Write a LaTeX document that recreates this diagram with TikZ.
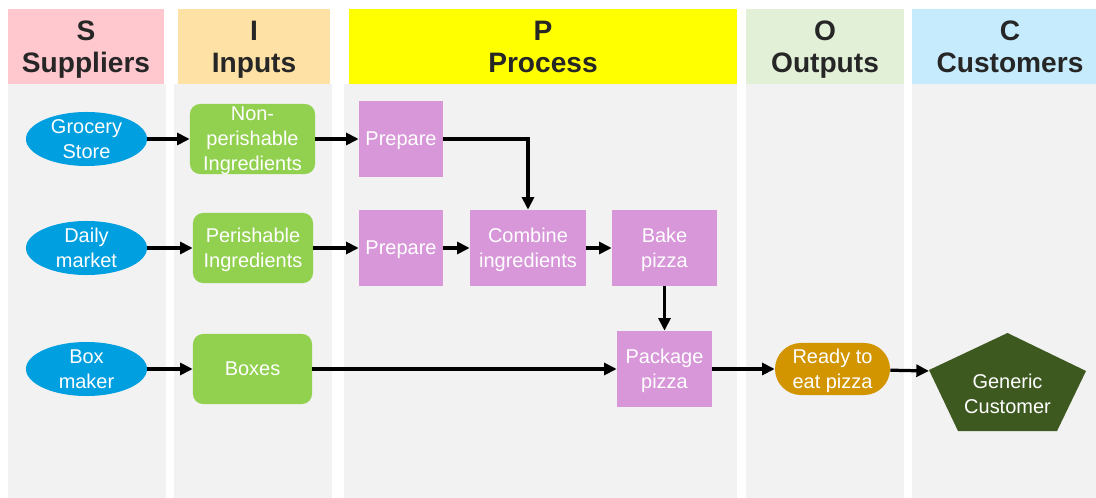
\documentclass[tikz,border=0pt]{standalone}
\usepackage{fontspec}
\setmainfont{Liberation Sans}
\usetikzlibrary{arrows.meta, shapes.geometric}

\definecolor{hdrS}{HTML}{FFC7CE}
\definecolor{hdrI}{HTML}{FDE1A5}
\definecolor{hdrP}{HTML}{FFFF00}
\definecolor{hdrO}{HTML}{E3F0D8}
\definecolor{hdrC}{HTML}{C5EBFD}
\definecolor{laneGrey}{HTML}{F2F2F2}
\definecolor{hdrText}{HTML}{262626}
\definecolor{supBlue}{HTML}{009FE0}
\definecolor{inGreen}{HTML}{92D050}
\definecolor{procPink}{HTML}{D797D9}
\definecolor{outGold}{HTML}{D29500}
\definecolor{custGreen}{HTML}{3E5920}

\begin{document}
\begin{tikzpicture}[
    x=0.025cm, y=-0.025cm,
    head style/.style={align=center, text=hdrText, inner sep=0pt, text depth=-3pt,
        font=\fontsize{20}{22.7}\selectfont\bfseries},
    box text/.style={align=center, text=white, inner sep=0pt, text depth=-2.5pt,
        font=\fontsize{14.2}{17.7}\selectfont},
    supplier style/.style={box text, ellipse, inner ysep=-3pt, fill=supBlue, minimum width=3.025cm, minimum height=1.35cm},
    input style/.style={box text, rectangle, rounded corners=0.25cm, fill=inGreen, minimum height=1.75cm},
    process style/.style={box text, rectangle, fill=procPink, minimum height=1.9cm},
    output style/.style={box text, rectangle, rounded corners=0.65cm, fill=outGold, minimum width=2.875cm, minimum height=1.3cm},
    arrow style/.style={line width=2.3pt, -{Triangle[length=9pt, width=8.5pt]}}
]

% SAME BOUNDING BOX
\path[use as bounding box] (0,0) rectangle (1096,498);

% LANES
\fill[laneGrey] (8,84) rectangle (166,498);
\fill[laneGrey] (174,84) rectangle (332,498);
\fill[laneGrey] (344,84) rectangle (737,498);
\fill[laneGrey] (746,84) rectangle (904,498);
\fill[laneGrey] (912,84) rectangle (1096,498);

% HEADERS
\fill[hdrS] (8,9) rectangle (164,84);
\fill[hdrI] (178,9) rectangle (330,84);
\fill[hdrP] (349,9) rectangle (737,84);
\fill[hdrO] (746,9) rectangle (904,84);
\fill[hdrC] (912,9) rectangle (1096,84);

\node[head style] (HS) at (86,46.5) {S\\Suppliers};
\node[head style] (HI) at (254,46.5) {I\\Inputs};
\node[head style] (HP) at (543,46.5) {P\\Process};
\node[head style] (HO) at (825,46.5) {O\\Outputs};
\node[head style] (HC) at (1010,46.5) {C\\Customers};

% SUPPLIERS
\node[supplier style] (GS) at (86.5,139) {Grocery\\Store};
\node[supplier style] (DM) at (86.5,248) {Daily\\market};
\node[supplier style] (BM) at (86.5,369) {Box\\maker};

% INPUTS
\node[input style, minimum width=3.125cm] (NP) at (252.5,139) {Non-\\perishable\\Ingredients};
\node[input style, minimum width=3cm] (PI) at (253,248) {Perishable\\Ingredients};
\node[input style, minimum width=2.975cm] (BX) at (252.5,369) {Boxes};

% PROCESS
\node[process style, minimum width=2.1cm] (PR1) at (401,139) {Prepare};
\node[process style, minimum width=2.1cm] (PR2) at (401,248) {Prepare};
\node[process style, minimum width=2.9cm] (CB) at (528,248) {Combine\\ingredients};
\node[process style, minimum width=2.625cm] (BK) at (664.5,248) {Bake\\pizza};
\node[process style, minimum width=2.375cm] (PK) at (664.5,369) {Package\\pizza};

% OUTPUTS
\node[output style] (RE) at (832.5,369) {Ready to\\eat pizza};

% CUSTOMERS
\fill[custGreen] (1007.5,333) -- (1086,371) -- (1057,431) -- (958,431) -- (929,370) -- cycle;
\coordinate (CV) at (929,371);
\node[box text] (GC) at (1007.5,394) {Generic\\Customer};

% ARROWS
\draw[arrow style] (GS) -- (NP);
\draw[arrow style] (NP) -- (PR1);
\draw[arrow style] (PR1.east) -| (CB.north);
\draw[arrow style] (DM) -- (PI);
\draw[arrow style] (PI) -- (PR2);
\draw[arrow style] (PR2) -- (CB);
\draw[arrow style] (CB) -- (BK);
\draw[arrow style] (BK) -- (PK);
\draw[arrow style] (BM) -- (BX);
\draw[arrow style] (BX) -- (PK);
\draw[arrow style] (PK) -- (RE);
\draw[arrow style] (RE) -- (CV);

\end{tikzpicture}
\end{document}
